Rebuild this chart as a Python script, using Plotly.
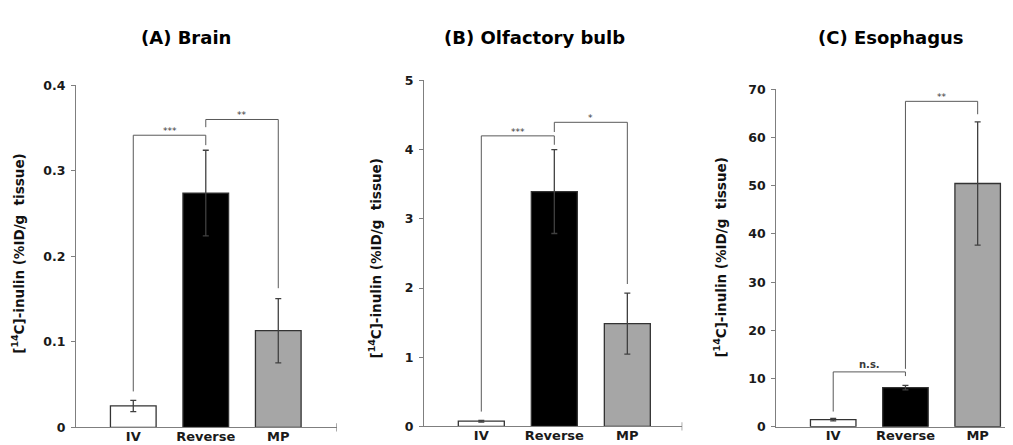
import plotly.graph_objects as go
from plotly.subplots import make_subplots

# ---------------- data ----------------
categories = ["IV", "Reverse", "MP"]

brain_mean = [0.025, 0.274, 0.113]
brain_err = [0.0065, 0.050, 0.0375]

olf_mean = [0.075, 3.394, 1.485]
olf_err = [0.012, 0.606, 0.442]

eso_mean = [1.47, 8.09, 50.48]
eso_err = [0.25, 0.47, 12.8]

panel_titles = ["(A) Brain", "(B) Olfactory bulb", "(C) Esophagus"]
y_title = "[<sup>14</sup>C]-inulin (%ID/g  tissue)"

brain_ticks = [0, 0.1, 0.2, 0.3, 0.4]
brain_ticklabels = ["0", "0.1", "0.2", "0.3", "0.4"]
olf_ticks = [0, 1, 2, 3, 4, 5]
eso_ticks = [0, 10, 20, 30, 40, 50, 60, 70]

# significance brackets: (from index, to index, left leg bottom, top, right leg bottom, label)
brain_brackets = [(0, 1, 0.042, 0.3416, 0.330, "***"),
                  (1, 2, 0.351, 0.360, 0.1627, "**")]
olf_brackets = [(0, 1, 0.214, 4.199, 4.07, "***"),
                (1, 2, 4.255, 4.395, 2.058, "*")]
eso_brackets = [(0, 1, 3.14, 11.37, 10.5, "n.s."),
                (1, 2, 12.0, 67.53, 64.85, "**")]

# ---------------- styling ----------------
FONT = "DejaVu Sans, Verdana, sans-serif"
bar_fill = ["#ffffff", "#000000", "#a6a6a6"]
bar_line = "#333333"
axis_col = "#7f7f7f"
W, H = 1013, 445

panels = [
    dict(mean=brain_mean, err=brain_err, ticks=brain_ticks, ticklabels=brain_ticklabels,
         yrange=[0, 0.4], xdom=[68 / W, 329 / W], ydom=[1 - 425.7 / H, 1 - 71.7 / H],
         xrange=[-0.79, 2.81], brackets=brain_brackets, title_x=178, ytitle_x=10, ytitle_y=246,
         endtick=True),
    dict(mean=olf_mean, err=olf_err, ticks=olf_ticks, ticklabels=[str(t) for t in olf_ticks],
         yrange=[0, 5], xdom=[416 / W, 674.3 / W], ydom=[1 - 424.7 / H, 1 - 66.7 / H],
         xrange=[-0.785, 2.753], brackets=olf_brackets, title_x=526, ytitle_x=367, ytitle_y=251,
         endtick=True),
    dict(mean=eso_mean, err=eso_err, ticks=eso_ticks, ticklabels=[str(t) for t in eso_ticks],
         yrange=[0, 70], xdom=[768.3 / W, 1.0], ydom=[1 - 425 / H, 1 - 76 / H],
         xrange=[-0.788, 2.60], brackets=eso_brackets, title_x=883, ytitle_x=712, ytitle_y=250,
         endtick=False),
]

fig = make_subplots(rows=1, cols=3)

annotations = []
shapes = []
for i, p in enumerate(panels):
    col = i + 1
    xs = list(range(len(categories)))
    fig.add_trace(go.Bar(
        x=xs, y=p["mean"], width=0.63,
        marker=dict(color=bar_fill, line=dict(color=bar_line, width=1.3)),
        error_y=dict(type="data", array=p["err"], visible=True,
                     color="#404040", thickness=1.3, width=3),
        showlegend=False, hoverinfo="skip"), row=1, col=col)

    axn = "" if col == 1 else str(col)
    for (a, b, lo_l, top, lo_r, lab) in p["brackets"]:
        fig.add_trace(go.Scatter(
            x=[a, a, b, b], y=[lo_l, top, top, lo_r], mode="lines",
            line=dict(color="#595959", width=1), showlegend=False, hoverinfo="skip"),
            row=1, col=col)
        is_text = lab == "n.s."
        annotations.append(dict(
            x=(a + b) / 2, y=top, xref="x" + axn, yref="y" + axn,
            text=("<b>%s</b>" % lab) if is_text else lab, showarrow=False,
            yanchor="bottom", yshift=(0 if is_text else -3),
            font=dict(family=FONT, size=(10 if is_text else 9), color="#3a3a3a")))

    fig.update_xaxes(domain=p["xdom"], range=p["xrange"], tickmode="array",
                     tickvals=xs, ticktext=categories, showline=True, linecolor=axis_col,
                     linewidth=1.3, ticks="", showgrid=False, zeroline=False,
                     ticklabelstandoff=-3,
                     tickfont=dict(family=FONT, size=13, color="#1a1a1a", weight="bold"),
                     row=1, col=col)
    fig.update_yaxes(domain=p["ydom"], range=p["yrange"], tickmode="array",
                     tickvals=p["ticks"], ticktext=p["ticklabels"], showline=True,
                     linecolor=axis_col, linewidth=1.3, ticks="outside", ticklen=4,
                     tickcolor=axis_col, tickwidth=1.3, showgrid=False, zeroline=False,
                     ticklabelstandoff=3,
                     tickfont=dict(family=FONT, size=12.5, color="#1a1a1a", weight="bold"),
                     row=1, col=col)

    if p["endtick"]:
        shapes.append(dict(type="line", xref="x" + axn, yref="y" + axn + " domain",
                           x0=p["xrange"][1], x1=p["xrange"][1], y0=-0.012, y1=0.012,
                           line=dict(color=axis_col, width=1.3)))

    annotations.append(dict(
        x=p["title_x"] / W, y=1 - 22 / H, xref="paper", yref="paper",
        text="<b>%s</b>" % panel_titles[i], showarrow=False,
        xanchor="center", yanchor="middle",
        font=dict(family=FONT, size=18, color="#000000")))
    annotations.append(dict(
        x=p["ytitle_x"] / W, y=1 - p["ytitle_y"] / H, xref="paper", yref="paper",
        text="<b>%s</b>" % y_title, showarrow=False, textangle=-90,
        xanchor="center", yanchor="middle",
        font=dict(family=FONT, size=13.5, color="#111111")))

fig.update_layout(
    width=W, height=H, margin=dict(l=0, r=0, t=0, b=0),
    paper_bgcolor="white", plot_bgcolor="white",
    annotations=annotations, shapes=shapes, bargap=0.3,
)

fig.write_html("out.html")
